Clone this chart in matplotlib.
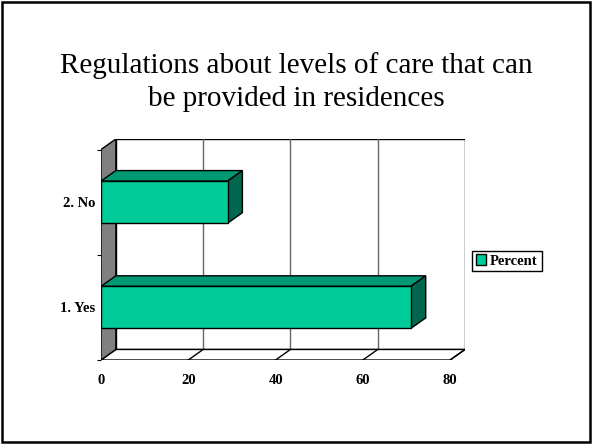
import matplotlib.pyplot as plt
from matplotlib.patches import Polygon, Rectangle, Patch

plt.rcParams['font.family'] = ['Liberation Serif', 'DejaVu Serif']

categories = ['1. Yes', '2. No']
percent = [71, 29]
xticks = [0, 20, 40, 60, 80]

front_col = '#00cc99'
top_col = '#009973'
side_col = '#00664d'

# depth offset of the fake 3d look, in data units
dx, dy = 3.4, 0.1
xmax = 80
ymax = 2.0
bar_h = 0.4

fig = plt.figure(figsize=(5.92, 4.45), dpi=100)

# axes: x 0 -> px 101, 83.4 -> px ~465 ; y 0 -> px 360, 2.1 -> px 139
ax = fig.add_axes([101 / 592, 85 / 445, 364 / 592, 221 / 445])
ax.set_xlim(0, xmax + dx)
ax.set_ylim(0, ymax + dy)
for s in ax.spines.values():
    s.set_visible(False)

# back wall
ax.add_patch(Rectangle((dx, dy), xmax, ymax, facecolor='white',
                       edgecolor='black', lw=1, zorder=1))
for v in xticks[1:-1]:
    ax.plot([v + dx, v + dx], [dy, ymax + dy], color='#666666', lw=1, zorder=2)

# floor
ax.add_patch(Polygon([(0, 0), (xmax, 0), (xmax + dx, dy), (dx, dy)],
                     facecolor='white', edgecolor='black', lw=1, zorder=2))
for v in xticks[1:]:
    ax.plot([v, v + dx], [0, dy], color='black', lw=1, zorder=2)

# left wall
ax.add_patch(Polygon([(0, 0), (dx, dy), (dx, ymax + dy), (0, ymax)],
                     facecolor='#808080', edgecolor='black', lw=1, zorder=3))

# bars
ypos = [0.5, 1.5]
ax.barh(ypos, percent, height=bar_h, left=0, color=front_col,
        edgecolor='black', lw=1, zorder=5)
for y, v in zip(ypos, percent):
    t = y + bar_h / 2
    b = y - bar_h / 2
    ax.add_patch(Polygon([(0, t), (v, t), (v + dx, t + dy), (dx, t + dy)],
                         facecolor=top_col, edgecolor='black', lw=1, zorder=4))
    ax.add_patch(Polygon([(v, b), (v + dx, b + dy), (v + dx, t + dy), (v, t)],
                         facecolor=side_col, edgecolor='black', lw=1, zorder=4))

ax.set_xticks(xticks)
ax.set_xticklabels([str(x) for x in xticks], fontweight='bold', fontsize=10.5)
ax.tick_params(axis='x', length=0, pad=10)

ax.set_yticks([0, 1, 2])
ax.set_yticklabels([])
ax.set_yticks(ypos, minor=True)
ax.set_yticklabels(categories, minor=True, fontweight='bold', fontsize=10.5)
ax.tick_params(axis='y', which='major', length=3, direction='out')
ax.tick_params(axis='y', which='minor', length=0, pad=4)

fig.text(0.5, 1 - 82 / 445,
         'Regulations about levels of care that can\nbe provided in residences',
         ha='center', va='center', fontsize=21, linespacing=1.36)

leg = fig.legend(handles=[Patch(facecolor=front_col, edgecolor='black')],
                 labels=['Percent'], loc='center left',
                 bbox_to_anchor=(472 / 592, 1 - 261 / 445),
                 prop={'weight': 'bold', 'size': 10.5}, fancybox=False,
                 framealpha=1, edgecolor='black', borderpad=0.25,
                 handlelength=0.7, handleheight=0.7, handletextpad=0.3,
                 borderaxespad=0)
leg.get_frame().set_linewidth(1)

# outer frame
fig.add_artist(Rectangle((2 / 592, 3 / 445), 588 / 592, 440 / 445,
                         transform=fig.transFigure, fill=False,
                         edgecolor='black', lw=1.8))

fig.savefig('out.png', dpi=100)
